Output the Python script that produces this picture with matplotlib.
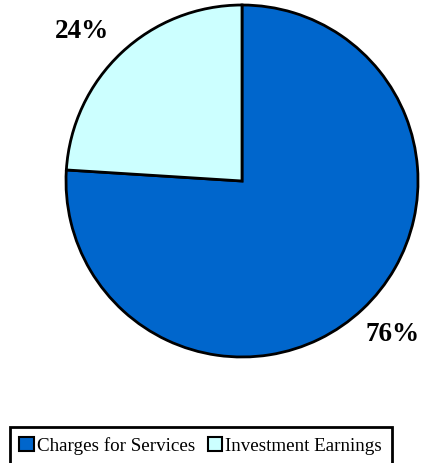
import numpy as np
import matplotlib
matplotlib.use("Agg")
import matplotlib.pyplot as plt
from matplotlib.patches import Patch

categories = ["Charges for Services", "Investment Earnings"]
shares = [76, 24]
colors = ["#0066CC", "#CCFFFF"]

# label placement (angle offset from wedge middle in degrees, radial distance)
label_offsets = [(1.4, 1.22), (3.6, 1.25)]

plt.rcParams["font.family"] = ["Liberation Serif", "DejaVu Serif"]

W, H = 427, 464
fig = plt.figure(figsize=(W / 100, H / 100), dpi=100)

cx, cy, r = 242, 182, 176
ax = fig.add_axes([(cx - r) / W, (H - cy - r) / H, 2 * r / W, 2 * r / H])
wedges, texts = ax.pie(
    shares, colors=colors, startangle=90, counterclock=False,
    wedgeprops=dict(edgecolor="black", linewidth=2),
)
for w, v, (da, dist) in zip(wedges, shares, label_offsets):
    mid = np.deg2rad((w.theta1 + w.theta2) / 2 + da)
    ax.text(dist * np.cos(mid), dist * np.sin(mid), f"{v}%",
            ha="center", va="center", fontsize=19.5, fontweight="bold",
            color="black", clip_on=False)
ax.set_xlim(-1, 1)
ax.set_ylim(-1, 1)
ax.set_aspect("equal")
ax.axis("off")

handles = [Patch(facecolor=c, edgecolor="black", linewidth=1.5) for c in colors]
leg = fig.legend(
    handles, categories, loc="upper left",
    bbox_to_anchor=(10 / W, (H - 428) / H), ncol=2,
    fontsize=13.65, frameon=True, fancybox=False, framealpha=1,
    handlelength=0.78, handleheight=0.78, handletextpad=0.15,
    columnspacing=0.65, borderpad=0.5, borderaxespad=0,
)
leg.get_frame().set_edgecolor("black")
leg.get_frame().set_linewidth(2)

fig.savefig("out.png", dpi=100)
